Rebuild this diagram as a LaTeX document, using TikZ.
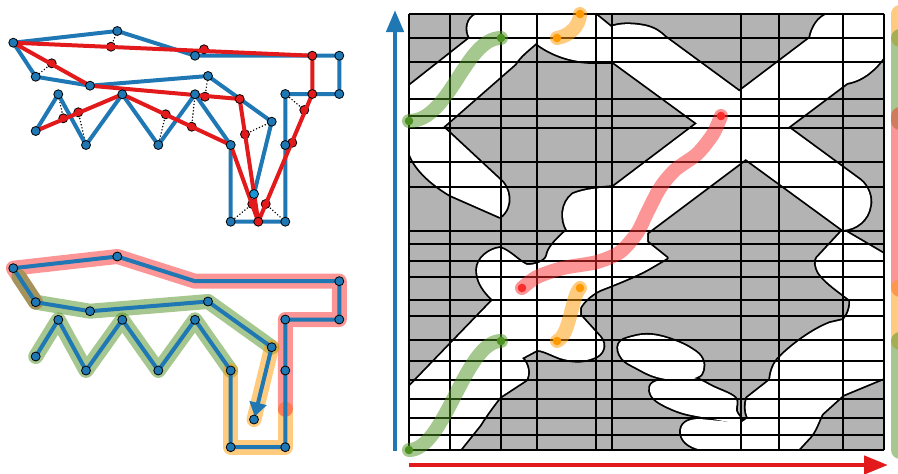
\documentclass[tikz,border=0pt]{standalone}
\usetikzlibrary{arrows.meta}
\definecolor{cblue}{RGB}{31,119,180}
\definecolor{cred}{RGB}{227,26,28}
\definecolor{chred}{RGB}{250,45,45}
\definecolor{cgreen}{RGB}{77,146,33}
\definecolor{corange}{RGB}{255,153,0}
\definecolor{cgray}{RGB}{179,179,179}
\definecolor{clblue}{RGB}{25,150,215}
\begin{document}
\begin{tikzpicture}[x=1pt,y=-1pt,line join=round,
 bedge/.style={draw=cblue,line width=4pt},
 redge/.style={draw=cred,line width=4pt},
 bnode/.style={circle,draw=black,line width=0.8pt,fill=cblue,inner sep=0pt,minimum size=9pt},
 rnode/.style={bnode,fill=cred},
 pnode/.style={bnode,fill=cred},
 proj/.style={draw=black,line width=1.6pt,line cap=round,dash pattern=on 0pt off 3.2pt},
 hl/.style={line width=15pt,line cap=round,line join=round,draw opacity=0.5},
 hlr/.style={line width=14pt,line cap=round,line join=round,draw opacity=0.5},
 barseg/.style={line width=18pt,line cap=round,draw opacity=0.5},
 dotnode/.style={circle,inner sep=0pt,minimum size=8.6pt},
 gridline/.style={draw=black,line width=1.8pt},
 outline/.style={draw=black,line width=3.6pt},
]
\useasboundingbox (0,0) rectangle (898,474);

% ---------------- left diagrams: coordinates ----------------
\foreach \n/\x/\y in {A/13.3/42.7, B/117.3/31, C/195/55.7, D/339.3/55.7, E/339.3/94,
  F/285.3/94, G/285.3/145, H/285.3/221.7, I/230.7/221.7, J/230.7/145, K/195/94.3,
  L/158.3/145, M/122.3/94.3, N/86/145, O/58.3/94.3, P/35.7/131, Q/35.7/76.7,
  R/90/85.7, S/208/76, T/271.7/121.7, U/254/194}
  {\coordinate (t\n) at (\x,\y); \coordinate (b\n) at (\x,\y+225.5);}
\coordinate (r1) at (312.3,55.7);
\coordinate (r2) at (312.3,94);
\coordinate (r3) at (239.7,99);
\coordinate (r4) at (258.3,221.7);
\coordinate (bGm) at (285.3,409.3);
\coordinate (bQm) at (18.9,276.7);

% ---------------- top-left diagram ----------------
\foreach \n/\x/\y/\t in {1/111/46.7/B, 2/204/49.3/C, 3/51.7/63.3/Q, 4/63.3/118.3/O,
  5/78.3/112.3/N, 6/165.7/114.3/L, 7/191.7/126.7/K, 8/205/96.7/S, 9/245/134.3/T,
  10/252.3/204/I, 11/265.7/204/H, 12/304.3/110/F, 13/292.3/142.7/G}
  {\coordinate (p\n) at (\x,\y); \draw[proj] (p\n) -- (t\t);}
\draw[bedge] (tA)--(tB)--(tC)--(tD)--(tE)--(tF)--(tG)--(tH)--(tI)--(tJ)--(tK)--(tL)--(tM)--(tN)--(tO)--(tP);
\draw[bedge] (tA)--(tQ)--(tR)--(tS)--(tT)--(tU);
\foreach \n in {1,...,13} {\node[pnode] (pn\n) at (p\n) {};}
\draw[redge] (tA)--(r1)--(r2)--(r4)--(r3)--(tR)--cycle;
\draw[redge] (tP)--(tM)--(tJ)--(r4);
\foreach \n in {A,B,C,D,E,F,G,H,I,J,K,L,M,N,O,P,Q,R,S,T} {\node[bnode] (nt\n) at (t\n) {};}
\node[bnode,fill=clblue] (ntU) at (tU) {};
\foreach \n in {1,2,3,4} {\node[rnode] (nr\n) at (r\n) {};}

% ---------------- bottom-left diagram ----------------
\draw[hl,draw=cgreen] (bP)--(bO)--(bN)--(bM)--(bL)--(bK)--(bJ);
\draw[hl,draw=corange] (bJ)--(bI)--(bH)--(bGm);
\draw[hl,draw=chred] (bGm)--(bG)--(bF)--(bE)--(bD)--(bC)--(bB)--(bA)--(bQ);
\draw[hl,draw=cgreen] (bQm)--(bQ)--(bR)--(bS)--(bT);
\draw[hl,draw=corange] (bT)--(bU);
\draw[bedge] (bA)--(bB)--(bC)--(bD)--(bE)--(bF)--(bG)--(bH)--(bI)--(bJ)--(bK)--(bL)--(bM)--(bN)--(bO)--(bP);
\draw[bedge,-{Triangle[length=14pt,width=17pt]},shorten >=3pt] (bA)--(bQ)--(bR)--(bS)--(bT)--(bU);
\foreach \n in {A,B,D,E,F,G,H,I,J,K,L,M,N,O,P,Q,R,S,T,U} {\node[bnode] (nb\n) at (b\n) {};}

% ---------------- right diagram ----------------
\def\regA{(477,14) -- (595,14) -- (611,27) .. controls (618,24) and (630,23) .. (645,26) .. controls (654,28) and (660,32) .. (665,37) -- (860,180) .. controls (868,186) and (872,198) .. (870,206) .. controls (868,220) and (856,229) .. (843,230) -- (613,62) -- (597,62) .. controls (580,63) and (555,58) .. (536,43) .. controls (528,50) and (520,56) .. (515,64) -- (443,127) -- (500,180) .. controls (509,187) and (514,206) .. (500,217) -- (450,195) .. controls (430,183) and (414,168) .. (409,152) -- (409,86) -- (470,38) .. controls (465,30) and (467,18) .. (477,14) -- cycle}
\def\regB{(810,38) .. controls (812,28) and (818,17) .. (828,14) -- (884,14) -- (884,57) .. controls (876,68) and (864,80) .. (847,83) -- (647,233) -- (647,242) -- (667,258) -- (650,268) .. controls (638,275) and (618,283) .. (600,290) .. controls (590,295) and (583,302) .. (580,308) -- (580,315) -- (600,337) .. controls (607,345) and (603,355) .. (593,358) .. controls (584,362) and (568,362) .. (555,356) .. controls (548,353) and (542,350) .. (537,350) -- (522,358) .. controls (528,364) and (530,374) .. (526,380) -- (500,397) .. controls (492,407) and (485,417) .. (480,425) -- (460,450) -- (409,450) -- (409,387) -- (493,300) .. controls (485,292) and (477,283) .. (477,270) .. controls (477,258) and (490,249) .. (500,248) .. controls (510,251) and (519,262) .. (527,265) .. controls (535,265) and (545,262) .. (547,256) .. controls (548,248) and (556,240) .. (567,230) .. controls (561,220) and (561,203) .. (573,194) .. controls (585,189) and (600,188) .. (613,187) -- cycle}
\def\regC{(843,230) -- (884,254) -- (884,378) -- (843,395) -- (822,414) .. controls (818,422) and (816,430) .. (810,437) -- (798,450) -- (702,450) .. controls (688,447) and (680,440) .. (681,430) .. controls (682,422) and (690,419) .. (700,419) -- (741,423) -- (748,418) .. controls (745,412) and (745,404) .. (747,398) -- (770,380) .. controls (771,370) and (774,363) .. (780,357) .. controls (792,345) and (812,330) .. (830,323) -- (843,320) .. controls (848,316) and (851,306) .. (850,300) .. controls (840,292) and (826,283) .. (819,273) .. controls (815,266) and (815,261) .. (817,258) -- cycle}
\def\regD{plot[smooth cycle,tension=0.7] coordinates {(619,344) (632,337) (652,335) (675,341) (693,350) (702,359) (703,370) (697,377) (680,380) (657,377) (637,368) (622,358)}}
\def\regE{plot[smooth cycle,tension=0.6] coordinates {(653,383) (650,391) (657,401) (680,412) (708,418) (741,423) (736,411) (735,398) (713,387) (693,378) (667,379)}}
\begin{scope}
\clip (409,14) rectangle (884,450);
\fill[cgray] (409,14) rectangle (884,450);
\draw[outline] \regA; \draw[outline] \regB; \draw[outline] \regC; \draw[outline] \regD; \draw[outline] \regE;
\fill[white] \regA; \fill[white] \regB; \fill[white] \regC; \fill[white] \regD; \fill[white] \regE;
\end{scope}
\foreach \x in {409,450,501,537,596,612,741,779,843,884} {\draw[gridline] (\x,14) -- (\x,450);}
\foreach \y in {14,38,62,99,116,128,162,187,231,244,261,277,300,316,340,361,380,399,418,435,450} {\draw[gridline] (409,\y) -- (884,\y);}

% axes
\coordinate (ya0) at (395,451);
\coordinate (ya1) at (395,10);
\coordinate (xa0) at (409,465);
\coordinate (xa1) at (888,465);
\draw[cblue,line width=4.5pt,-{Triangle[length=22pt,width=17pt]}] (ya0) -- (ya1);
\draw[cred,line width=4.5pt,-{Triangle[length=24pt,width=18pt]}] (xa0) -- (xa1);

% trajectories
\coordinate (g1s) at (409,121); \coordinate (g1e) at (501,38);
\coordinate (g2s) at (409,450); \coordinate (g2e) at (501,341);
\coordinate (o1s) at (557,38); \coordinate (o1e) at (580,14);
\coordinate (o2s) at (557,341); \coordinate (o2e) at (580,288);
\coordinate (rs) at (522,288); \coordinate (re) at (721,116);
\draw[hlr,draw=cgreen] (g1s) .. controls (450,121) and (465,38) .. (g1e);
\draw[hlr,draw=cgreen] (g2s) .. controls (445,450) and (465,341) .. (g2e);
\draw[hlr,draw=corange] (o1s) .. controls (570,36) and (580,25) .. (o1e);
\draw[hlr,draw=corange] (o2s) .. controls (566,338) and (570,315) .. (573,305) .. controls (575,297) and (577,291) .. (o2e);
\draw[hlr,draw=chred] plot[smooth] coordinates {(522,288) (537,277) (563,268) (597,262) (620,252) (637,233) (647,213) (660,188) (675,170) (697,154) (713,134) (721,116)};
\node[dotnode,fill=cgreen] (dg1s) at (g1s) {};
\node[dotnode,fill=cgreen] (dg1e) at (g1e) {};
\node[dotnode,fill=cgreen] (dg2s) at (g2s) {};
\node[dotnode,fill=cgreen] (dg2e) at (g2e) {};
\node[dotnode,fill=corange] (do1s) at (o1s) {};
\node[dotnode,fill=corange] (do1e) at (o1e) {};
\node[dotnode,fill=corange] (do2s) at (o2s) {};
\node[dotnode,fill=corange] (do2e) at (o2e) {};
\node[dotnode,fill=chred] (drs) at (rs) {};
\node[dotnode,fill=chred] (dre) at (re) {};

% right bar
\coordinate (c0) at (900,14); \coordinate (c1) at (900,38); \coordinate (c2) at (900,121);
\coordinate (c2b) at (900,116); \coordinate (c3) at (900,288); \coordinate (c4) at (900,341);
\coordinate (c5) at (900,450);
\draw[barseg,draw=corange] (c0) -- (c1);
\draw[barseg,draw=cgreen] (c1) -- (c2);
\draw[barseg,draw=chred] (c2b) -- (c3);
\draw[barseg,draw=corange] (c3) -- (c4);
\draw[barseg,draw=cgreen] (c4) -- (c5);
\end{tikzpicture}
\end{document}
